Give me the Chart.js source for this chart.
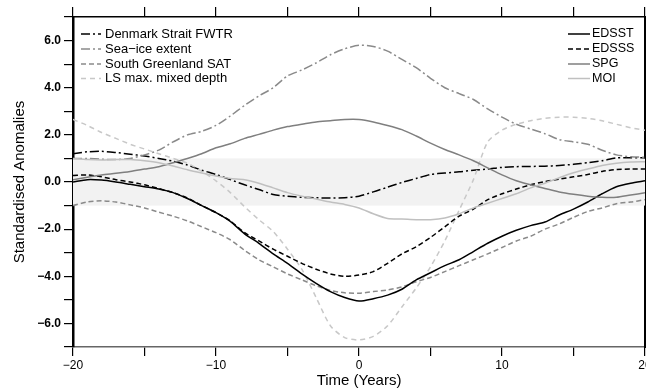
<!DOCTYPE html>
<html><head><meta charset="utf-8">
<script src="https://cdn.jsdelivr.net/npm/chart.js@4"></script>
<style>html,body{margin:0;padding:0;background:#fff;}canvas{display:block;}</style>
</head><body>
<canvas id="c" width="646" height="391"></canvas>
<script>
const years = [-20,-19,-18,-17,-16,-15,-14,-13,-12,-11,-10,-9,-8,-7,-6,-5,-4,-3,-2,-1,0,1,2,3,4,5,6,7,8,9,10,11,12,13,14,15,16,17,18,19,20];

const fwtr   = [1.2,1.28,1.3,1.25,1.18,1.1,1.0,0.88,0.72,0.5,0.32,0.1,-0.12,-0.32,-0.53,-0.6,-0.65,-0.67,-0.68,-0.67,-0.6,-0.42,-0.22,-0.02,0.15,0.32,0.38,0.43,0.5,0.55,0.62,0.65,0.66,0.67,0.7,0.75,0.82,0.9,1.02,1.03,1.03];
const seaIce = [1.0,1.0,0.97,0.95,1.0,1.15,1.35,1.7,2.0,2.15,2.4,2.8,3.25,3.65,4.0,4.5,4.75,5.05,5.4,5.65,5.8,5.75,5.55,5.2,4.85,4.4,4.0,3.75,3.5,3.1,2.75,2.45,2.25,2.05,1.8,1.7,1.6,1.35,1.15,1.07,1.05];
const sat    = [-1.0,-0.85,-0.8,-0.85,-0.97,-1.1,-1.28,-1.45,-1.65,-1.9,-2.15,-2.45,-2.9,-3.3,-3.6,-3.9,-4.15,-4.4,-4.6,-4.7,-4.72,-4.65,-4.58,-4.45,-4.23,-4.05,-3.8,-3.55,-3.3,-3.05,-2.78,-2.5,-2.3,-2.0,-1.78,-1.5,-1.25,-1.1,-0.92,-0.85,-0.75];
const lsDepth= [2.65,2.4,2.1,1.85,1.6,1.4,1.2,1.0,0.8,0.45,0.05,-0.45,-1.05,-1.6,-2.1,-2.85,-3.7,-4.9,-6.1,-6.6,-6.7,-6.55,-6.1,-5.3,-4.5,-3.6,-2.5,-1.2,0.1,1.7,2.2,2.45,2.6,2.7,2.75,2.75,2.7,2.6,2.45,2.3,2.2];
const edsst  = [0.0,0.1,0.08,0.0,-0.1,-0.2,-0.3,-0.45,-0.7,-1.0,-1.3,-1.67,-2.2,-2.6,-3.05,-3.45,-3.9,-4.3,-4.65,-4.9,-5.05,-4.95,-4.8,-4.55,-4.15,-3.85,-3.55,-3.3,-2.95,-2.6,-2.3,-2.05,-1.85,-1.7,-1.4,-1.15,-0.85,-0.5,-0.2,-0.05,0.05];
const edsss  = [0.28,0.3,0.22,0.1,0.0,-0.12,-0.28,-0.45,-0.68,-1.0,-1.3,-1.65,-2.15,-2.5,-2.85,-3.15,-3.45,-3.7,-3.9,-4.0,-3.95,-3.8,-3.45,-3.05,-2.75,-2.35,-1.9,-1.45,-1.15,-0.75,-0.5,-0.3,-0.12,0.02,0.12,0.22,0.32,0.45,0.53,0.55,0.55];
const spg    = [0.1,0.2,0.3,0.37,0.45,0.55,0.65,0.82,1.0,1.2,1.45,1.62,1.85,2.02,2.2,2.35,2.45,2.55,2.6,2.65,2.65,2.55,2.4,2.22,1.95,1.65,1.38,1.15,0.9,0.6,0.3,0.05,-0.12,-0.28,-0.42,-0.52,-0.6,-0.65,-0.65,-0.55,-0.46];
const moi    = [1.0,0.95,0.93,0.95,0.95,0.9,0.82,0.68,0.52,0.38,0.25,0.15,0.1,-0.05,-0.25,-0.45,-0.6,-0.72,-0.85,-0.95,-1.1,-1.35,-1.55,-1.57,-1.6,-1.6,-1.53,-1.35,-1.1,-0.9,-0.7,-0.5,-0.25,-0.05,0.18,0.39,0.55,0.7,0.8,0.85,0.86];

const xTickLabels = {'-20':'\u221220','-10':'\u221210','0':'0','10':'10','20':'20'};
const yTickLabels = {'6':'6.0','4':'4.0','2':'2.0','0':'0.0','-2':'\u22122.0','-4':'\u22124.0','-6':'\u22126.0'};

const seriesDefs = [
  {label:'Denmark Strait FWTR', data:fwtr,   color:'#000000', dash:[9,3,2,3], side:'left'},
  {label:'Sea\u2212ice extent', data:seaIce, color:'#8a8a8a', dash:[9,3,2,3], side:'left'},
  {label:'South Greenland SAT', data:sat,    color:'#8a8a8a', dash:[5,3],     side:'left'},
  {label:'LS max. mixed depth', data:lsDepth,color:'#c8c8c8', dash:[5,4],     side:'left'},
  {label:'EDSST', data:edsst, color:'#000000', dash:[],    side:'right'},
  {label:'EDSSS', data:edsss, color:'#000000', dash:[5,3], side:'right'},
  {label:'SPG',   data:spg,   color:'#7f7f7f', dash:[],    side:'right'},
  {label:'MOI',   data:moi,   color:'#c0c0c0', dash:[],    side:'right'}
];

const FONT = '"Liberation Sans", Arial, sans-serif';

function noPad(s){ s.paddingLeft = 0; s.paddingRight = 0; s.paddingTop = 0; s.paddingBottom = 0; }

const bandPlugin = {
  id:'band',
  beforeDatasetsDraw(chart){
    const {ctx, chartArea, scales} = chart;
    const y = scales.y;
    const t = y.getPixelForValue(1), b = y.getPixelForValue(-1);
    ctx.save();
    ctx.fillStyle = '#f2f2f2';
    ctx.fillRect(chartArea.left, t, chartArea.right-chartArea.left, b-t);
    ctx.restore();
  }
};

const decorPlugin = {
  id:'decor',
  afterDraw(chart){
    const {ctx, chartArea} = chart;
    ctx.save();
    ctx.textBaseline = 'middle';
    ctx.fillStyle = '#000';
    const rows = [34, 49, 64, 78.5];
    let li = 0, ri = 0;
    seriesDefs.forEach(s => {
      let x0, x1, tx, yy;
      if (s.side === 'left') { x0 = 81; x1 = 101; tx = 105; yy = rows[li++]; ctx.font = '13px ' + FONT; }
      else { x0 = 568; x1 = 590; tx = 592; yy = rows[ri++]; ctx.font = '12.5px ' + FONT; }
      ctx.beginPath();
      ctx.setLineDash(s.dash);
      ctx.strokeStyle = s.color;
      ctx.lineWidth = 1.5;
      ctx.moveTo(x0, yy); ctx.lineTo(x1, yy); ctx.stroke();
      ctx.setLineDash([]);
      ctx.textAlign = 'left';
      ctx.fillText(s.label, tx, yy);
    });
    ctx.font = '15px ' + FONT;
    ctx.textAlign = 'center';
    ctx.textBaseline = 'middle';
    ctx.fillText('Time (Years)', (chartArea.left+chartArea.right)/2, 381);
    ctx.save();
    ctx.translate(20, (chartArea.top+chartArea.bottom)/2);
    ctx.rotate(-Math.PI/2);
    ctx.fillText('Standardised Anomalies', 0, 0);
    ctx.restore();
    ctx.restore();
  }
};

new Chart(document.getElementById('c'), {
  type:'line',
  data:{
    datasets: seriesDefs.map(s => ({
      label:s.label,
      data: years.map((yr,i)=>({x:yr, y:s.data[i]})),
      borderColor:s.color,
      borderDash:s.dash,
      borderWidth:1.5,
      pointRadius:0,
      tension:0.25,
      fill:false
    })).reverse()
  },
  options:{
    responsive:false,
    animation:false,
    devicePixelRatio:1,
    layout:{padding:0},
    plugins:{legend:{display:false}, tooltip:{enabled:false}},
    scales:{
      x:{
        type:'linear', position:'bottom', min:-20, max:20,
        afterFit(s){ s.height = 44; noPad(s); },
        ticks:{stepSize:5, autoSkip:false, maxRotation:0, padding:2,
          color:'#000', font:{family:FONT, size:12},
          callback:(v)=> xTickLabels[String(v)] !== undefined ? xTickLabels[String(v)] : ''},
        grid:{drawOnChartArea:false, drawTicks:true, tickLength:9, color:'#000', lineWidth:1.2},
        border:{display:true, color:'#666', width:1.5}
      },
      x2:{
        type:'linear', position:'top', min:-20, max:20,
        afterFit(s){ s.height = 17; noPad(s); },
        ticks:{stepSize:5, autoSkip:false, display:false},
        grid:{drawOnChartArea:false, drawTicks:true, tickLength:10, color:'#000', lineWidth:1.2},
        border:{display:true, color:'#000', width:1.5}
      },
      y:{
        type:'linear', position:'left', min:-7, max:7,
        afterFit(s){ s.width = 73; noPad(s); },
        ticks:{stepSize:1, autoSkip:false, padding:3, color:'#000',
          font:{family:FONT, size:12, weight:'bold'},
          callback:(v)=> yTickLabels[String(v)] !== undefined ? yTickLabels[String(v)] : ''},
        grid:{drawOnChartArea:false, drawTicks:true, tickLength:9, color:'#000', lineWidth:1.2},
        border:{display:true, color:'#000', width:2.5}
      },
      y2:{
        type:'linear', position:'right', min:-7, max:7,
        afterFit(s){ s.width = 1; noPad(s); },
        ticks:{display:false},
        grid:{display:false, drawOnChartArea:false},
        border:{display:true, color:'#000', width:2}
      }
    }
  },
  plugins:[bandPlugin, decorPlugin]
});
</script>
</body></html>
